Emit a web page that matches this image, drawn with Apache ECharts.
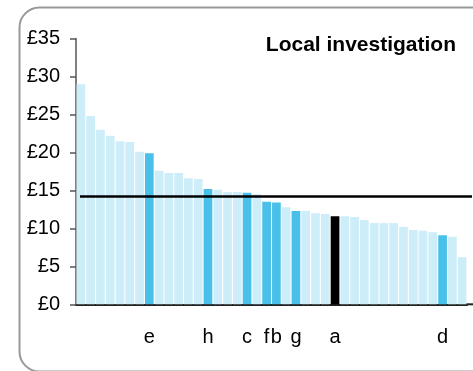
<!DOCTYPE html>
<html>
<head>
<meta charset="utf-8">
<script src="https://cdn.jsdelivr.net/npm/echarts@6/dist/echarts.min.js"></script>
<style>
html,body{margin:0;padding:0;background:#fff;}
#chart{width:473px;height:371px;}
</style>
</head>
<body>
<div id="chart"></div>
<script>
// Data
var categories = ['','','','','','','','e','','','','','','h','','','','c','','f','b','','g','','','','a','','','','','','','','','','','d','',''];
var values = [29.0,24.8,23.0,22.2,21.5,21.4,20.1,19.9,17.6,17.3,17.3,16.6,16.5,15.2,15.1,14.8,14.8,14.7,14.5,13.5,13.4,12.8,12.3,12.3,12.0,11.9,11.6,11.6,11.5,11.1,10.7,10.7,10.7,10.2,9.8,9.7,9.5,9.1,8.9,6.2];
// 0 = other, 1 = highlighted, 2 = selected
var highlight = [0,0,0,0,0,0,0,1,0,0,0,0,0,1,0,0,0,1,0,1,1,0,1,0,0,0,2,0,0,0,0,0,0,0,0,0,0,1,0,0];
var averageValue = 14.27;
var yTicks = [0,5,10,15,20,25,30,35];
var titleText = 'Local investigation';

var colors = ['#CDEDF9', '#48C0EA', '#000000'];
var font = '"Liberation Sans", Arial, sans-serif';

var chart = echarts.init(document.getElementById('chart'));
chart.setOption({
  animation: false,
  backgroundColor: '#fff',
  title: {
    text: titleText,
    right: 12, top: 30,
    textStyle: {fontFamily: font, fontWeight: 'bold', fontSize: 21, color: '#000'}
  },
  grid: {left: 76, right: 6, top: 38.7, bottom: 66.7, containLabel: false},
  xAxis: {
    type: 'category',
    data: categories,
    axisLine: {show: true, lineStyle: {color: '#222', width: 2}},
    axisTick: {show: false},
    axisLabel: {interval: 0, margin: 23, fontFamily: font, fontSize: 20, color: '#000'}
  },
  yAxis: {
    type: 'value',
    min: yTicks[0], max: yTicks[yTicks.length - 1], interval: 5,
    splitLine: {show: false},
    axisLine: {show: true, lineStyle: {color: '#808080', width: 2}},
    axisTick: {show: true, length: 6, lineStyle: {color: '#555', width: 1.5}},
    axisLabel: {margin: 16, fontFamily: font, fontSize: 20, color: '#000',
      formatter: function (v) { return '£' + v; }}
  },
  series: [{
    type: 'bar',
    barCategoryGap: '11%',
    data: values.map(function (v, i) {
      return {value: v, itemStyle: {color: colors[highlight[i]]}};
    }),
    markLine: {
      silent: true,
      symbol: 'none',
      label: {show: false},
      lineStyle: {color: '#000', width: 2.5, type: 'solid'},
      data: [[{x: 80, yAxis: averageValue}, {x: 472, yAxis: averageValue}]]
    }
  }],
  graphic: [
    {type: 'rect', left: 17, top: 5, shape: {width: 500, height: 364, r: 20},
      style: {fill: null, stroke: '#999', lineWidth: 2}, z: -1},
    {type: 'line', shape: {x1: 466, y1: 304.3, x2: 473, y2: 304.3},
      style: {stroke: '#222', lineWidth: 2}}
  ]
});
</script>
</body>
</html>
